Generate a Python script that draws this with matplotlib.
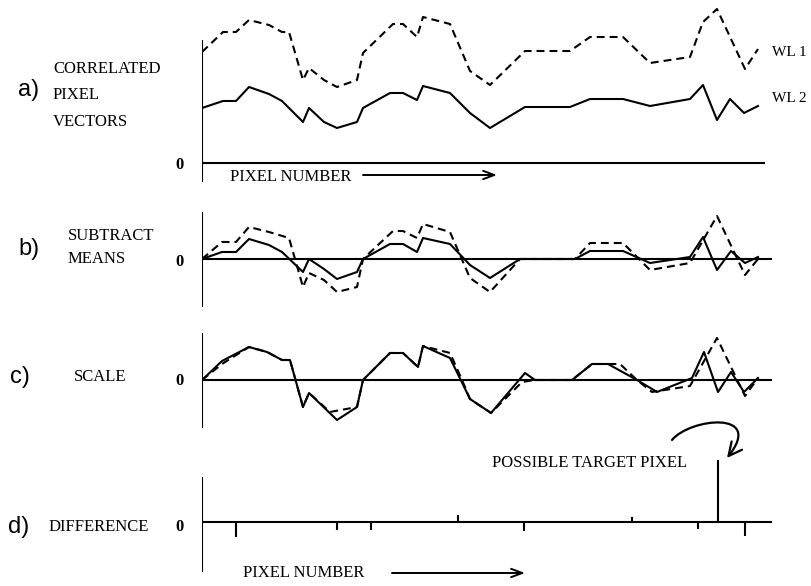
import matplotlib
matplotlib.use("Agg")
import matplotlib.pyplot as plt
from matplotlib.path import Path
from matplotlib.patches import FancyArrowPatch

W, H, DPI = 811, 586, 100

# ---------------- data: pixel number along the scan line and signal level ----
# a) correlated pixel vectors (raw intensities)
a_wl2_x = [0, 21, 34, 47, 67, 80, 101, 107, 122, 135, 155, 161, 188, 201, 215,
           221, 248, 268, 288, 323, 368, 388, 421, 448, 488, 501, 515, 528, 542, 556]
a_wl2_y = [55, 62, 62, 76, 69, 62, 41, 55, 41, 35, 41, 55, 70, 70, 63,
           77, 70, 50, 35, 56, 56, 64, 64, 57, 64, 78, 43, 64, 50, 57]
a_wl1_x = [0, 21, 34, 47, 67, 80, 87, 101, 107, 122, 135, 155, 161, 191, 201,
           215, 221, 248, 268, 288, 323, 368, 388, 421, 448, 488, 501, 515, 543, 556]
a_wl1_y = [111, 131, 131, 143, 138, 131, 131, 83, 95, 83, 76, 83, 110, 139, 139,
           126, 146, 139, 92, 78, 112, 112, 126, 126, 100, 106, 141, 154, 94, 114]

# b) after subtracting the means
b_wl2_x = [0, 20, 34, 47, 67, 80, 101, 107, 122, 135, 155, 161, 188, 201, 215,
           221, 248, 268, 288, 318, 373, 388, 421, 448, 488, 501, 515, 529, 543, 556]
b_wl2_y = [0, 7, 7, 20, 14, 7, -13, 0, -10, -20, -13, 0, 15, 15, 7,
           21, 15, -6, -19, 0, 0, 8, 8, -4, 2, 22, -11, 8, -4, 2]
b_wl1_x = [0, 20, 34, 47, 67, 87, 101, 107, 122, 135, 155, 161, 191, 201,
           215, 221, 248, 268, 288, 318, 373, 388, 421, 448, 488, 515, 543, 556]
b_wl1_y = [0, 17, 17, 32, 27, 21, -28, -14, -21, -33, -28, 0, 28, 28,
           21, 35, 27, -19, -33, 0, 0, 16, 16, -11, -4, 43, -16, 0]

# c) after scaling
c_wl2_x = [0, 20, 47, 65, 80, 88, 101, 107, 135, 155, 161, 188, 201, 216, 221,
           248, 268, 289, 323, 333, 370, 390, 406, 435, 455, 490, 502, 516, 529, 542, 556]
c_wl2_y = [0, 19, 33, 28, 20, 20, -27, -13, -40, -27, 0, 27, 27, 13, 34,
           22, -19, -33, 7, 0, 0, 16, 16, 0, -12, 2, 28, -12, 8, -12, 2]
c_wl1_x = [0, 20, 47, 65, 80, 88, 101, 107, 128, 155, 161, 188, 201, 216, 221,
           248, 260, 268, 289, 320, 333, 370, 390, 418, 435, 450, 488, 515, 543, 556]
c_wl1_y = [0, 16, 33, 28, 20, 20, -27, -13, -32, -27, 0, 27, 27, 13, 34,
           27, 0, -19, -33, -2, 0, 0, 16, 16, 0, -12, -6, 42, -16, 2]

# d) difference of the scaled vectors
d_x = [34, 135, 169, 256, 322, 430, 496, 516, 543]
d_y = [-15, -8, -8, 7, -9, 5, -7, 62, -14]

# ---------------- figure -------------------------------------------------------
fig = plt.figure(figsize=(W / DPI, H / DPI), dpi=DPI)
fig.patch.set_facecolor("white")

SERIF = ["Liberation Serif", "DejaVu Serif"]
SANS = ["Liberation Sans", "DejaVu Sans"]
LW = 1.5
DASH = (0, (3.8, 2.4))


def panel(top, bottom, zero, x0=202, x1=772):
    """Axes whose data units equal one output pixel; zero row at `zero`."""
    ax = fig.add_axes([x0 / W, 1 - bottom / H, (x1 - x0) / W, (bottom - top) / H])
    ax.set_xlim(0, x1 - x0)
    ax.set_ylim(zero - bottom, zero - top)
    ax.axis("off")
    return ax


def frame(ax, ybot, ytop, xend):
    ax.plot([0, 0], [ybot, ytop], color="black", lw=LW, solid_capstyle="butt")
    ax.plot([0, xend], [0, 0], color="black", lw=LW, solid_capstyle="butt")


# a)
ax_a = panel(0, 195, 163)
frame(ax_a, -19, 123, 563)
ax_a.plot(a_wl1_x, a_wl1_y, color="black", lw=LW, linestyle=DASH)
ax_a.plot(a_wl2_x, a_wl2_y, color="black", lw=LW)

# b)
ax_b = panel(198, 318, 259)
frame(ax_b, -48, 47, 570)
ax_b.plot(b_wl1_x, b_wl1_y, color="black", lw=LW, linestyle=DASH)
ax_b.plot(b_wl2_x, b_wl2_y, color="black", lw=LW)

# c)
ax_c = panel(322, 440, 380)
frame(ax_c, -48, 47, 570)
ax_c.plot(c_wl1_x, c_wl1_y, color="black", lw=LW, linestyle=DASH)
ax_c.plot(c_wl2_x, c_wl2_y, color="black", lw=LW)

# d)
ax_d = panel(440, 586, 522)
frame(ax_d, -50, 45, 570)
ax_d.vlines(d_x, 0, d_y, color="black", lw=LW)

# ---------------- labels and arrows (pixel-space overlay) ----------------------
ov = fig.add_axes([0, 0, 1, 1])
ov.set_xlim(0, W)
ov.set_ylim(H, 0)
ov.axis("off")


def label(x, y, s, size=12, family=SERIF, ha="left", weight="normal"):
    ov.text(x, y, s, fontsize=size, family=family, ha=ha, va="center",
            weight=weight, color="black")


# panel letters
for s, x, y in [("a)", 18, 90), ("b)", 18, 249), ("c)", 10, 377), ("d)", 8, 527)]:
    label(x, y, s, size=17, family=SANS)

label(53, 69, "CORRELATED")
label(53, 95, "PIXEL")
label(53, 122, "VECTORS")
label(68, 236, "SUBTRACT")
label(68, 259, "MEANS")
label(74, 377, "SCALE")
label(49, 527, "DIFFERENCE")

for y in (165, 262, 381, 527):
    label(180, y, "0", ha="center", weight="bold")

label(772, 52, "WL 1", size=11)
label(772, 99, "WL 2", size=11)

label(230, 177, "PIXEL NUMBER")
label(243, 573, "PIXEL NUMBER")
label(492, 463, "POSSIBLE TARGET PIXEL")

for xa, xb, y in [(363, 497, 175), (392, 525, 573)]:
    ov.annotate("", xy=(xb, y), xytext=(xa, y),
                arrowprops=dict(arrowstyle="->,head_length=0.8,head_width=0.3",
                                lw=1.4, color="black", shrinkA=0, shrinkB=0))

curve = Path([(672, 440), (690, 418), (765, 410), (727, 458)],
             [Path.MOVETO, Path.CURVE4, Path.CURVE4, Path.CURVE4])
ov.add_patch(FancyArrowPatch(path=curve, arrowstyle="->,head_length=0.6,head_width=0.3",
                             mutation_scale=16, lw=1.6, color="black"))

fig.savefig("out.png", dpi=DPI, facecolor="white")
